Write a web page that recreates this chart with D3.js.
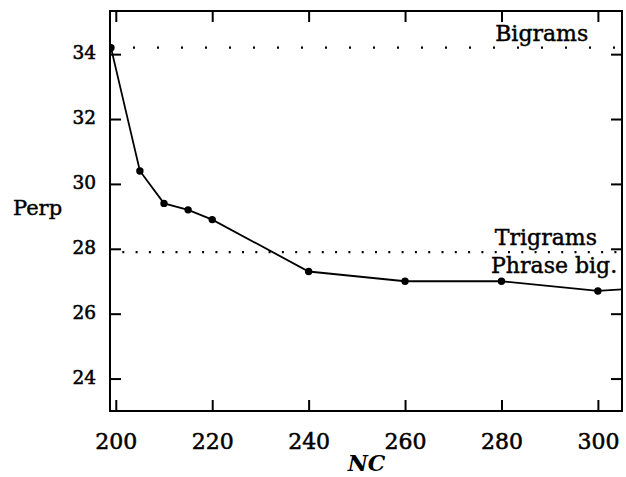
<!DOCTYPE html>
<html>
<head>
<meta charset="utf-8">
<script src="https://cdn.jsdelivr.net/npm/d3@7"></script>
<style>
  html, body { margin: 0; padding: 0; background: #fff; }
  svg { display: block; }
</style>
</head>
<body>
<script>
// ---- data ----
const ncValues   = [199, 205, 210, 215, 220, 240, 260, 280, 300, 310];
const perpValues = [34.2, 30.4, 29.4, 29.2, 28.9, 27.3, 27.0, 27.0, 26.7, 26.8];
const xTickValues = [200, 220, 240, 260, 280, 300];
const yTickValues = [24, 26, 28, 30, 32, 34];
const refNames  = ["Bigrams", "Trigrams"];
const refValues = [34.2, 27.9];
const curveLabel = "Phrase big.";
const xTitle = "NC";
const yTitle = "Perp";

(function () {
// ---- layout ----
const W = 626, H = 477;
const mL = 110, mR = 622, mT = 11, mB = 411;

const svg = d3.select("body").append("svg").attr("width", W).attr("height", H);

const x = d3.scaleLinear().domain([198.8, 305]).range([mL, mR]);
const y = d3.scaleLinear().domain([23.0, 35.33]).range([mB, mT]);

const serif = "'DejaVu Serif', serif";
const thick = 0.55; // text stroke to mimic the heavy scanned type

svg.append("defs").append("clipPath").attr("id", "plotclip")
  .append("rect").attr("x", mL).attr("y", mT)
  .attr("width", mR - mL).attr("height", mB - mT);

// reference dotted lines
const refGap = [22, 11.3];
refValues.forEach((v, i) => {
  svg.append("line")
    .attr("x1", mL).attr("x2", mR)
    .attr("y1", y(v)).attr("y2", y(v))
    .attr("stroke", "#000").attr("stroke-width", 2.2)
    .attr("stroke-dasharray", `2 ${refGap[i]}`)
    .attr("stroke-dashoffset", 1);
});

// axes
function styleAxis(g, showText) {
  g.select(".domain").remove();
  g.selectAll(".tick line").attr("stroke", "#000").attr("stroke-width", 2);
  if (!showText) g.selectAll(".tick text").remove();
}

const gB = svg.append("g").attr("transform", `translate(0,${mB})`)
  .call(d3.axisBottom(x).tickValues(xTickValues).tickSize(-11).tickFormat(d3.format("d")));
styleAxis(gB, true);
gB.selectAll(".tick text").attr("y", 38).attr("dy", 0)
  .attr("font-family", serif).attr("font-size", 22).attr("fill", "#000")
  .attr("stroke", "#000").attr("stroke-width", thick);

const gT = svg.append("g").attr("transform", `translate(0,${mT})`)
  .call(d3.axisTop(x).tickValues(xTickValues).tickSize(-11));
styleAxis(gT, false);

const gL = svg.append("g").attr("transform", `translate(${mL},0)`)
  .call(d3.axisLeft(y).tickValues(yTickValues).tickSize(-11).tickFormat(d3.format("d")));
styleAxis(gL, true);
gL.selectAll(".tick text").attr("x", -14).attr("dy", 4.5)
  .attr("font-family", serif).attr("font-size", 18.5).attr("fill", "#000")
  .attr("stroke", "#000").attr("stroke-width", thick);

const gR = svg.append("g").attr("transform", `translate(${mR},0)`)
  .call(d3.axisRight(y).tickValues(yTickValues).tickSize(-11));
styleAxis(gR, false);

// frame
svg.append("rect").attr("x", mL).attr("y", mT)
  .attr("width", mR - mL).attr("height", mB - mT)
  .attr("fill", "none").attr("stroke", "#000").attr("stroke-width", 2);

// series
const pts = ncValues.map((n, i) => [n, perpValues[i]]);
const plot = svg.append("g").attr("clip-path", "url(#plotclip)");
plot.append("path")
  .datum(pts)
  .attr("d", d3.line().x(d => x(d[0])).y(d => y(d[1])))
  .attr("fill", "none").attr("stroke", "#000").attr("stroke-width", 1.8);
plot.selectAll("circle").data(pts).enter().append("circle")
  .attr("cx", d => x(d[0])).attr("cy", d => y(d[1])).attr("r", 3.7)
  .attr("fill", "#000");

// labels
const lab = (t, xx, yy, anchor) => svg.append("text").text(t)
  .attr("x", xx).attr("y", yy).attr("text-anchor", anchor || "start")
  .attr("font-family", serif).attr("font-size", 22).attr("fill", "#000")
  .attr("stroke", "#000").attr("stroke-width", thick * 0.8);

lab(refNames[0], x(298.0), y(refValues[0]) - 7, "end");
lab(refNames[1], x(299.8), y(refValues[1]) - 7, "end");
lab(curveLabel, x(304.0), y(refValues[1]) + 21, "end");

svg.append("text").text(yTitle)
  .attr("x", 13).attr("y", y(29.05))
  .attr("font-family", serif).attr("font-size", 21).attr("fill", "#000")
  .attr("stroke", "#000").attr("stroke-width", thick * 0.8);

svg.append("text").text(xTitle)
  .attr("x", x(252)).attr("y", 471).attr("text-anchor", "middle")
  .attr("font-family", serif).attr("font-size", 22)
  .attr("font-style", "italic").attr("font-weight", "bold").attr("fill", "#000");
})();
</script>
</body>
</html>
